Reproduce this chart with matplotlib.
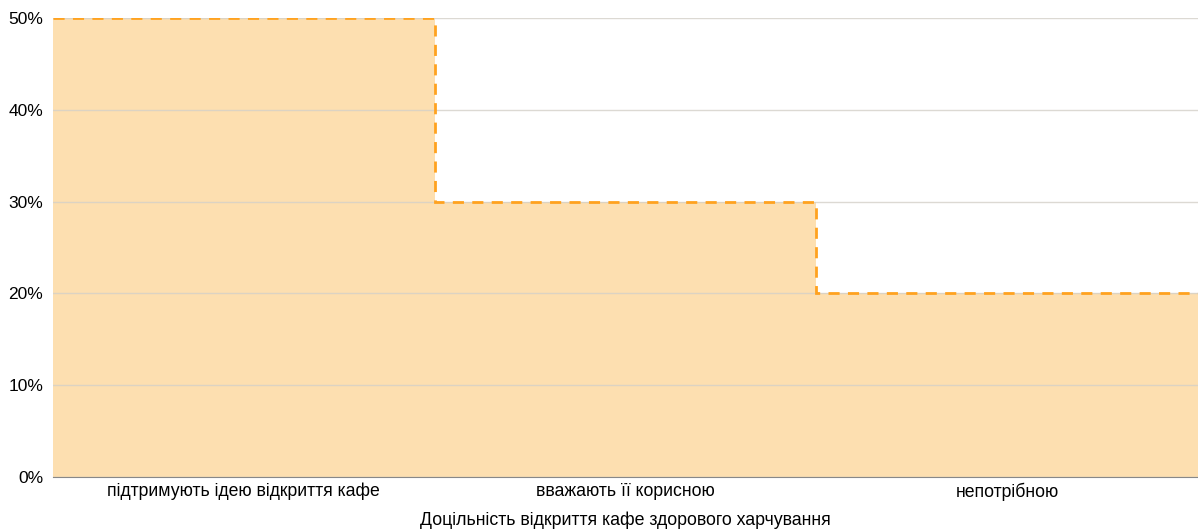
import numpy as np
import matplotlib.pyplot as plt

plt.rcParams['font.family'] = ['Liberation Sans', 'DejaVu Sans']

categories = ["підтримують ідею відкриття кафе", "вважають її корисною", "непотрібною"]
shares = [50, 30, 20]
yticks = [0, 10, 20, 30, 40, 50]

edges = np.arange(len(shares) + 1)

fig = plt.figure(figsize=(11.98, 5.30), dpi=100)
ax = fig.add_axes([0.0442, 0.1, 0.9558, 0.866])

# filled area under the steps
ax.stairs(shares, edges, fill=True, color="#fddfb0", baseline=0, zorder=1)
# dashed outline on top
ax.stairs(shares, edges, baseline=None, color="#ffa21f", linewidth=2,
          linestyle=(0, (4, 3)), zorder=3)

ax.set_xlim(0, len(shares))
ax.set_ylim(0, 50)
ax.set_yticks(yticks)
ax.set_yticklabels([f"{v}%" for v in yticks], fontsize=12.5)
ax.set_xticks(edges[:-1] + 0.5)
ax.set_xticklabels(categories, fontsize=12.7)
ax.tick_params(length=0)
ax.tick_params(axis='x', pad=4)
ax.tick_params(axis='y', pad=7)

ax.grid(axis='y', color="#d4d0c8", linewidth=1, alpha=0.8, zorder=2)
for s in ["top", "right", "left"]:
    ax.spines[s].set_visible(False)
ax.spines["bottom"].set_color("#888888")
ax.spines["bottom"].set_zorder(4)

ax.set_xlabel("Доцільність відкриття кафе здорового харчування", fontsize=12.8, labelpad=8)

fig.savefig("out.png", dpi=100)
